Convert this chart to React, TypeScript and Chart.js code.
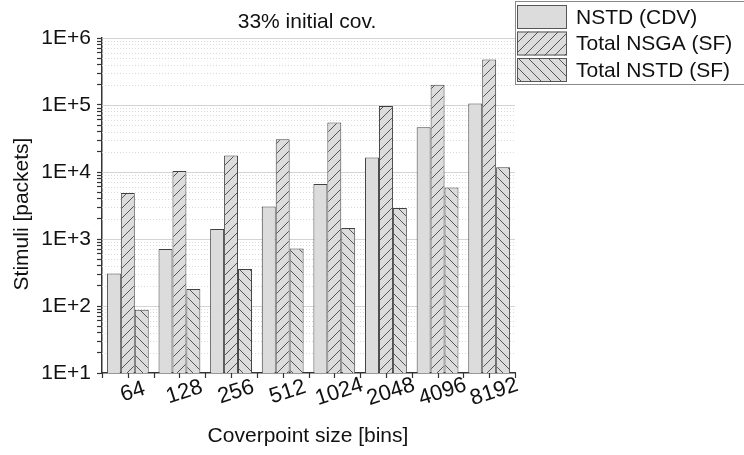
import React, { useEffect, useRef } from "react";
import { Chart, registerables } from "chart.js";

Chart.register(...registerables);

const categories = ["64", "128", "256", "512", "1024", "2048", "4096", "8192"];
const nstdCdv = [305, 710, 1410, 3050, 6620, 16400, 46400, 105000];
const totalNsgaSf = [4860, 10350, 17600, 30700, 54600, 96600, 201000, 476000];
const totalNstdSf = [88, 180, 357, 720, 1460, 2900, 5850, 11750];
const seriesNames = ["NSTD (CDV)", "Total NSGA (SF)", "Total NSTD (SF)"];
const decades = [10, 100, 1000, 10000, 100000, 1000000];
const multipliers = [1, 2, 3, 4, 5, 6, 7, 8, 9];
const titleText = "33% initial cov.";
const xTitle = "Coverpoint size [bins]";
const yTitle = "Stimuli [packets]";

const FONT = "'Liberation Sans', Arial, sans-serif";
const FILL = "#dcdcdc";
const EDGE = "#404040";

function makePattern(dir: 1 | -1): CanvasPattern | string {
  const c = document.createElement("canvas");
  c.width = 10;
  c.height = 10;
  const g = c.getContext("2d");
  if (!g) return FILL;
  g.fillStyle = FILL;
  g.fillRect(0, 0, 10, 10);
  g.strokeStyle = "#555";
  g.lineWidth = 1;
  g.beginPath();
  if (dir === 1) {
    g.moveTo(-1, 11); g.lineTo(11, -1);
    g.moveTo(-6, 6); g.lineTo(6, -6);
    g.moveTo(4, 16); g.lineTo(16, 4);
  } else {
    g.moveTo(-1, -1); g.lineTo(11, 11);
    g.moveTo(-6, 4); g.lineTo(6, 16);
    g.moveTo(4, -6); g.lineTo(16, 6);
  }
  g.stroke();
  const ctx = document.createElement("canvas").getContext("2d");
  return (ctx && ctx.createPattern(c, "repeat")) || FILL;
}

export default function App() {
  const ref = useRef<HTMLCanvasElement | null>(null);

  useEffect(() => {
    if (!ref.current) return;
    const fwd = makePattern(1);
    const back = makePattern(-1);
    const fills = [FILL, fwd, back];

    const yTickValues: number[] = [];
    decades.forEach((d) => {
      multipliers.forEach((m) => {
        const v = d * m;
        if (v <= 1000000) yTickValues.push(v);
      });
    });

    const decor = {
      id: "decor",
      beforeDatasetsDraw(chart: any) {
        const { ctx, chartArea } = chart;
        const y = chart.scales.y;
        ctx.save();
        yTickValues.forEach((v) => {
          const py = Math.round(y.getPixelForValue(v)) + 0.5;
          const major = decades.indexOf(v) >= 0;
          if (v === 10) return;
          ctx.beginPath();
          if (major) {
            ctx.setLineDash([]);
            ctx.strokeStyle = "#d4d4d4";
          } else {
            ctx.setLineDash([1, 2]);
            ctx.strokeStyle = "#d9d9d9";
          }
          ctx.lineWidth = 1;
          ctx.moveTo(chartArea.left, py);
          ctx.lineTo(chartArea.right, py);
          ctx.stroke();
        });
        ctx.restore();
      },
      afterDraw(chart: any) {
        const { ctx, chartArea } = chart;
        const x = chart.scales.x;
        ctx.save();
        const n = categories.length;
        const step = (chartArea.right - chartArea.left) / n;
        ctx.strokeStyle = "#333";
        ctx.lineWidth = 1.2;
        ctx.beginPath();
        for (let i = 0; i <= 2 * n; i++) {
          const px = Math.round(chartArea.left + (i * step) / 2) + 0.5;
          ctx.moveTo(px, chartArea.bottom);
          ctx.lineTo(px, chartArea.bottom + 5);
        }
        ctx.stroke();
        ctx.fillStyle = "#111";
        ctx.font = `22px ${FONT}`;
        ctx.textAlign = "center";
        ctx.textBaseline = "middle";
        categories.forEach((lab, i) => {
          const px = x.getPixelForValue(i) + 5;
          ctx.save();
          ctx.translate(px, 392);
          ctx.rotate((-18 * Math.PI) / 180);
          ctx.fillText(lab, 0, 0);
          ctx.restore();
        });
        ctx.font = `21px ${FONT}`;
        ctx.fillText(titleText, 307, 22);
        ctx.font = `21px ${FONT}`;
        ctx.fillText(xTitle, 308, 436);
        ctx.save();
        ctx.translate(22, 214);
        ctx.rotate(-Math.PI / 2);
        ctx.fillText(yTitle, 0, 0);
        ctx.restore();
        ctx.strokeStyle = "#8a8a8a";
        ctx.lineWidth = 1;
        ctx.strokeRect(515.5, 1.5, 240, 83);
        const tops = [5, 31.5, 58];
        seriesNames.forEach((name, i) => {
          ctx.fillStyle = fills[i] as any;
          ctx.fillRect(517, tops[i], 50, 24);
          ctx.strokeStyle = "#555";
          ctx.strokeRect(517.5, tops[i] + 0.5, 49, 23);
          ctx.fillStyle = "#111";
          ctx.textAlign = "left";
          ctx.textBaseline = "middle";
          ctx.font = `21px ${FONT}`;
          ctx.fillText(name, 576, tops[i] + 13);
        });
        ctx.restore();
      },
    };

    const chart = new Chart(ref.current, {
      type: "bar",
      data: {
        labels: categories,
        datasets: [nstdCdv, totalNsgaSf, totalNstdSf].map((d, i) => ({
          label: seriesNames[i],
          data: d,
          backgroundColor: fills[i] as any,
          borderColor: EDGE,
          borderWidth: 1,
          borderSkipped: "bottom",
          categoryPercentage: 0.81,
          barPercentage: 1,
        })),
      },
      options: {
        responsive: false,
        animation: false,
        devicePixelRatio: 1,
        layout: { padding: { left: 0, top: 38, right: 229, bottom: 0 } },
        plugins: {
          legend: { display: false },
          title: { display: false },
          tooltip: { enabled: false },
        },
        scales: {
          x: {
            type: "category",
            offset: true,
            grid: { display: false },
            border: { display: true, color: "#333", width: 1.5 },
            ticks: { display: false },
            afterFit: (s: any) => {
              s.height = 82;
            },
          },
          y: {
            type: "logarithmic",
            min: 10,
            max: 1000000,
            grid: {
              display: true,
              drawOnChartArea: false,
              drawTicks: true,
              tickLength: 5,
              tickColor: "#333",
              tickWidth: 1.2,
            },
            border: { display: true, color: "#333", width: 1.5 },
            afterBuildTicks: (s: any) => {
              s.ticks = yTickValues.map((v) => ({ value: v, major: decades.indexOf(v) >= 0 }));
            },
            afterFit: (s: any) => {
              s.width = 102;
            },
            ticks: {
              autoSkip: false,
              padding: 6,
              color: "#111",
              font: { family: FONT, size: 21 },
              callback: (v: any) => {
                const idx = decades.indexOf(Number(v));
                return idx >= 0 ? "1E+" + Math.round(Math.log10(Number(v))) : "";
              },
            },
          },
        },
      },
      plugins: [decor],
    } as any);

    return () => chart.destroy();
  }, []);

  return (
    <div style={{ position: "absolute", left: 0, top: 0, width: 744, height: 455, background: "#fff" }}>
      <canvas ref={ref} width={744} height={455} />
    </div>
  );
}
